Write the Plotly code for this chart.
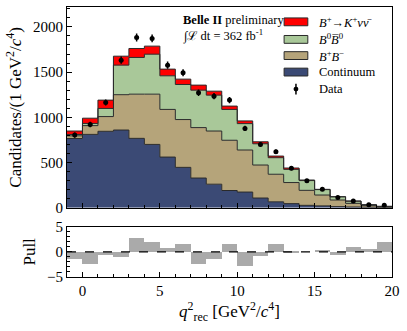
import numpy as np
import plotly.graph_objects as go

# bin edges q^2_rec [GeV^2/c^4], 1 GeV^2 wide
edges = list(range(-1, 21))
centers = [e + 0.5 for e in edges[:-1]]

# stacked components, candidates per bin
continuum = [765, 811, 845, 859, 767, 700, 560, 446, 328, 260, 190, 173, 107, 65, 45, 26, 20, 12, 8, 5, 3]
bpbm = [30, 97, 163, 391, 489, 556, 527, 529, 558, 588, 556, 465, 365, 305, 233, 166, 120, 73, 40, 17, 7]
b0b0 = [15, 24, 90, 327, 406, 442, 372, 388, 414, 397, 341, 292, 235, 183, 146, 108, 60, 35, 24, 10, 4]
signal = [38, 58, 92, 99, 99, 89, 74, 59, 56, 44, 37, 30, 22, 18, 15, 6, 3, 2, 2, 1, 1]

data = [803, 921, 1164, 1632, 1883, 1872, 1577, 1492, 1271, 1234, 1190, 877, 700, 619, 435, 298, 203, 112, 74, 33, 26]

pull = [-1.3, -2.3, -0.65, -1.0, 2.8, 2.0, 0.8, 1.65, -2.4, -1.3, 1.65, -2.75, -0.85, 1.7, 0.05, 0.0, 0.5, -0.65, 1.1, 0.6, 2.1]

components = [
    ("Continuum", continuum, "#3b4a75"),
    ("B+B-", bpbm, "#b5a47a"),
    ("B0B0", b0b0, "#a9c899"),
    ("signal", signal, "#ff0000"),
]

fig = go.Figure()

cum = np.zeros(len(continuum))
for i, (name, vals, col) in enumerate(components):
    cum = cum + np.array(vals)
    ys = list(cum) + [cum[-1]]
    fig.add_trace(go.Scatter(
        x=edges, y=ys, mode="lines", line_shape="hv",
        line=dict(color="#2a2a2a", width=1),
        fill="tozeroy" if i == 0 else "tonexty", fillcolor=col,
        name=name, showlegend=False, xaxis="x", yaxis="y"))

fig.add_trace(go.Scatter(
    x=centers, y=data, mode="markers",
    marker=dict(color="black", size=5),
    error_y=dict(type="data", array=list(np.sqrt(data)), width=0, thickness=1.5, color="black"),
    showlegend=False, xaxis="x", yaxis="y"))

fig.add_trace(go.Bar(
    x=centers, y=pull, width=1, marker=dict(color="#aaaaaa", line=dict(width=0)),
    showlegend=False, xaxis="x2", yaxis="y2"))

serif = "Liberation Serif"
axis_common = dict(showline=True, linecolor="black", linewidth=1.2, mirror=True,
                   ticks="inside", ticklen=5, tickcolor="black", showgrid=False,
                   zeroline=False, automargin=False,
                   tickfont=dict(family=serif, size=15, color="black"))

fig.update_layout(
    width=407, height=331,
    margin=dict(l=67, r=15, t=7, b=54),
    plot_bgcolor="white", paper_bgcolor="white",
    font=dict(family=serif, color="black"),
    bargap=0,
    xaxis=dict(domain=[0, 1], range=[-1, 20], anchor="y", showticklabels=False,
               dtick=5, tick0=0, minor=dict(ticks="inside", dtick=1, ticklen=3, tickcolor="black"),
               **axis_common),
    yaxis=dict(domain=[0.2567, 1], range=[0, 2220], anchor="x", dtick=500,
               minor=dict(ticks="inside", dtick=100, ticklen=3, tickcolor="black"),
               title=dict(text="Candidates/(1 GeV<sup>2</sup>/<i>c</i><sup>4</sup>)",
                          font=dict(family=serif, size=17), standoff=6),
               **axis_common),
    xaxis2=dict(domain=[0, 1], range=[-1, 20], anchor="y2", dtick=5, tick0=0,
                minor=dict(ticks="inside", dtick=1, ticklen=3, tickcolor="black"),
                title=dict(text="<i>q</i><sup>2</sup><sub>rec</sub> [GeV<sup>2</sup>/<i>c</i><sup>4</sup>]",
                           font=dict(family=serif, size=17), standoff=4),
                **axis_common),
    yaxis2=dict(domain=[0, 0.1863], range=[-5, 5], anchor="x2", dtick=5,
                minor=dict(ticks="inside", dtick=1, ticklen=3, tickcolor="black"),
                title=dict(text="Pull", font=dict(family=serif, size=17), standoff=6),
                **axis_common),
)

# dashed zero line in the pull panel
fig.add_shape(type="line", xref="x2 domain", yref="y2", x0=0, x1=1, y0=0, y1=0,
              line=dict(color="black", width=1.2, dash="dash"))

# experiment label
fig.add_annotation(xref="paper", yref="paper", x=0.351, y=0.952, xanchor="left", yanchor="middle",
                   text="<b>Belle II</b> preliminary", showarrow=False,
                   font=dict(family=serif, size=12.5, color="black"))
fig.add_annotation(xref="paper", yref="paper", x=0.351, y=0.896, xanchor="left", yanchor="middle",
                   text="∫ℒ dt = 362 fb<sup>-1</sup>", showarrow=False,
                   font=dict(family=serif, size=12.5, color="black"))

# legend drawn by hand: wide patches like the original
legend_items = [
    ("<i>B</i><sup>+</sup>→<i>K</i><sup>+</sup><i>νν̄</i>", "#ff0000", 0.945),
    ("<i>B</i><sup>0</sup><i>B̅</i><sup>0</sup>", "#a9c899", 0.880),
    ("<i>B</i><sup>+</sup><i>B</i><sup>−</sup>", "#b5a47a", 0.820),
    ("Continuum", "#3b4a75", 0.759),
]
for label, col, yc in legend_items:
    fig.add_shape(type="rect", xref="paper", yref="paper", x0=0.668, x1=0.741,
                  y0=yc - 0.0145, y1=yc + 0.0145, fillcolor=col,
                  line=dict(color="#2a2a2a", width=1))
    fig.add_annotation(xref="paper", yref="paper", x=0.768, y=yc, xanchor="left", yanchor="middle",
                       text=label, showarrow=False, font=dict(family=serif, size=12.5, color="black"))

fig.add_shape(type="line", xref="paper", yref="paper", x0=0.7045, x1=0.7045, y0=0.676, y1=0.716,
              line=dict(color="black", width=1.5))
fig.add_shape(type="circle", xref="paper", yref="paper", x0=0.7045 - 0.0075, x1=0.7045 + 0.0075,
              y0=0.696 - 0.009, y1=0.696 + 0.009, fillcolor="black", line=dict(width=0))
fig.add_annotation(xref="paper", yref="paper", x=0.768, y=0.696, xanchor="left", yanchor="middle",
                   text="Data", showarrow=False, font=dict(family=serif, size=12.5, color="black"))

# the page's default body margin would push the fixed-size figure off by 8px
fig.write_html("out.html", config={"displayModeBar": False},
               post_script="document.body.style.margin='0';")
